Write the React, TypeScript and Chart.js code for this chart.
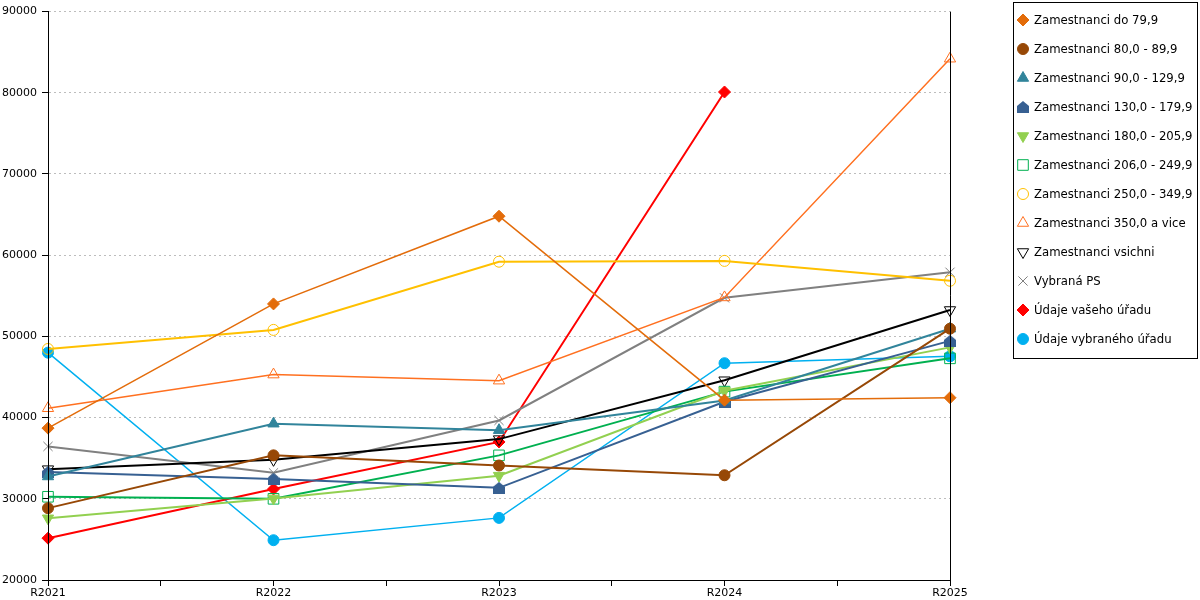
import { useEffect, useRef } from "react";
import Chart from "chart.js/auto";
import { drawPoint } from "chart.js/helpers";

const categories = ["R2021", "R2022", "R2023", "R2024", "R2025"];
const yMin = 20000;
const yMax = 90000;
const yStep = 10000;

const labels = [
  "Zamestnanci do 79,9",
  "Zamestnanci 80,0 - 89,9",
  "Zamestnanci 90,0 - 129,9",
  "Zamestnanci 130,0 - 179,9",
  "Zamestnanci 180,0 - 205,9",
  "Zamestnanci 206,0 - 249,9",
  "Zamestnanci 250,0 - 349,9",
  "Zamestnanci 350,0 a vice",
  "Zamestnanci vsichni",
  "Vybraná PS",
  "Údaje vašeho úřadu",
  "Údaje vybraného úřadu",
];

const do79 = [38700, 54000, 64800, 42150, 42450];
const z80 = [28850, 35350, 34100, 32900, 50950];
const z90 = [32750, 39250, 38450, 42100, 50950];
const z130 = [33300, 32450, 31350, 41950, 49450];
const z180 = [27600, 30050, 32850, 43300, 48650];
const z206 = [30250, 30000, 35350, 43200, 47300];
const z250 = [48450, 50800, 59200, 59300, 56850];
const z350 = [41150, 45300, 44550, 54800, 84200];
const vsichni = [33650, 34800, 37350, 44600, 53250];
const vybranaPs = [36450, 33200, 39650, 54750, 57900];
const vasUrad = [25150, 31200, 37000, 80100, null];
const vybranyUrad = [48000, 24900, 27650, 46700, 47550];

const series = [do79, z80, z90, z130, z180, z206, z250, z350, vsichni, vybranaPs, vasUrad, vybranyUrad];

// house-shaped marker (square with a roof)
function houseMarker(color: string) {
  const cv = document.createElement("canvas");
  cv.width = 12;
  cv.height = 12;
  const g = cv.getContext("2d")!;
  g.fillStyle = color;
  g.beginPath();
  g.moveTo(0, 5);
  g.lineTo(6, 0);
  g.lineTo(12, 5);
  g.lineTo(12, 12);
  g.lineTo(0, 12);
  g.closePath();
  g.fill();
  return cv;
}

const none = "rgba(0,0,0,0)";

function styles() {
  return [
    { color: "#E36C0A", fill: "#E36C0A", style: "rectRot", r: 6, w: 1.5 },
    { color: "#974806", fill: "#974806", style: "circle", r: 5.5, w: 2 },
    { color: "#31849B", fill: "#31849B", style: "triangle", r: 6.5, w: 2 },
    { color: "#376092", fill: "#376092", style: houseMarker("#376092"), r: 6, w: 2 },
    { color: "#92D050", fill: "#92D050", style: "triangle", r: 6.5, w: 2, rot: 180 },
    { color: "#00B050", fill: none, style: "rect", r: 7.5, w: 2 },
    { color: "#FFC000", fill: none, style: "circle", r: 5.5, w: 2 },
    { color: "#FF7020", fill: none, style: "triangle", r: 6.5, w: 1.5 },
    { color: "#000000", fill: none, style: "triangle", r: 6.5, w: 2, rot: 180 },
    { color: "#808080", fill: none, style: "crossRot", r: 6.5, w: 2 },
    { color: "#FF0000", fill: "#FF0000", style: "rectRot", r: 6, w: 2 },
    { color: "#00B0F0", fill: "#00B0F0", style: "circle", r: 5.5, w: 1.5 },
  ];
}

const axisLines = {
  id: "axisLines",
  afterDatasetsDraw(chart: any) {
    const { ctx, chartArea } = chart;
    ctx.save();
    ctx.strokeStyle = "#000";
    ctx.lineWidth = 1;
    ctx.beginPath();
    ctx.moveTo(Math.round(chartArea.left) + 0.5, chartArea.top);
    ctx.lineTo(Math.round(chartArea.left) + 0.5, chartArea.bottom);
    ctx.moveTo(Math.round(chartArea.right) + 0.5, chartArea.top);
    ctx.lineTo(Math.round(chartArea.right) + 0.5, chartArea.bottom);
    ctx.stroke();
    ctx.restore();
  },
};

const boxLegend = {
  id: "boxLegend",
  afterDraw(chart: any) {
    const c = chart.ctx;
    c.save();
    c.strokeStyle = "#000";
    c.lineWidth = 1;
    c.strokeRect(1013.5, 2.5, 184, 356);
    chart.data.datasets.forEach((ds: any, i: number) => {
      const y = 20 + i * 29;
      c.fillStyle = ds.pointBackgroundColor;
      c.strokeStyle = ds.pointBorderColor;
      c.lineWidth = 1;
      drawPoint(
        c,
        { pointStyle: ds.pointStyle, rotation: ds.pointRotation || 0, radius: ds.pointRadius, borderWidth: 1 },
        1023,
        y,
      );
      c.fillStyle = "#000";
      c.font = "11.7px 'DejaVu Sans'";
      c.textBaseline = "middle";
      c.textAlign = "left";
      c.fillText(ds.label, 1034, y + 1);
    });
    c.restore();
  },
};

export default function App() {
  const ref = useRef<HTMLCanvasElement>(null);

  useEffect(() => {
    document.body.style.margin = "0";
    const canvas = ref.current;
    if (!canvas) return;
    Chart.defaults.font.family = "'DejaVu Sans', sans-serif";
    Chart.defaults.font.size = 11;
    Chart.defaults.color = "#000";

    const st = styles();
    const chart = new Chart(canvas, {
      type: "line",
      data: {
        datasets: series.map((vals, i) => ({
          label: labels[i],
          data: vals.map((v, k) => ({ x: k, y: v })),
          borderColor: st[i].color,
          borderWidth: st[i].w,
          pointStyle: st[i].style as any,
          pointRotation: st[i].rot || 0,
          pointRadius: st[i].r,
          pointBorderWidth: 1,
          pointBorderColor: st[i].color,
          pointBackgroundColor: st[i].fill,
          backgroundColor: st[i].fill,
          tension: 0,
          clip: false as any,
        })),
      },
      options: {
        animation: false,
        responsive: true,
        maintainAspectRatio: false,
        layout: { padding: { top: 10, right: 250, left: 0, bottom: 0 } },
        plugins: { legend: { display: false }, tooltip: { enabled: false } },
        scales: {
          x: {
            type: "linear",
            min: 0,
            max: categories.length - 1,
            afterFit: (s: any) => {
              s.height = 20;
            },
            grid: { drawOnChartArea: false, tickColor: "#000", tickLength: 6 },
            border: { color: "#000" },
            ticks: {
              stepSize: 0.5,
              autoSkip: false,
              maxRotation: 0,
              padding: 1,
              callback: (v: any) => (Number.isInteger(v) ? categories[v] : ""),
            },
          },
          y: {
            min: yMin,
            max: yMax,
            afterFit: (s: any) => {
              s.width = 48;
            },
            grid: { color: "#bdbdbd", tickColor: "#000", tickLength: 6 },
            border: { color: "#000", dash: [2, 3] },
            ticks: { stepSize: yStep, padding: 5, callback: (v: any) => String(v) },
          },
        },
      },
      plugins: [axisLines, boxLegend],
    });
    return () => chart.destroy();
  }, []);

  return (
    <div style={{ position: "relative", width: 1200, height: 600 }}>
      <canvas ref={ref} />
    </div>
  );
}
